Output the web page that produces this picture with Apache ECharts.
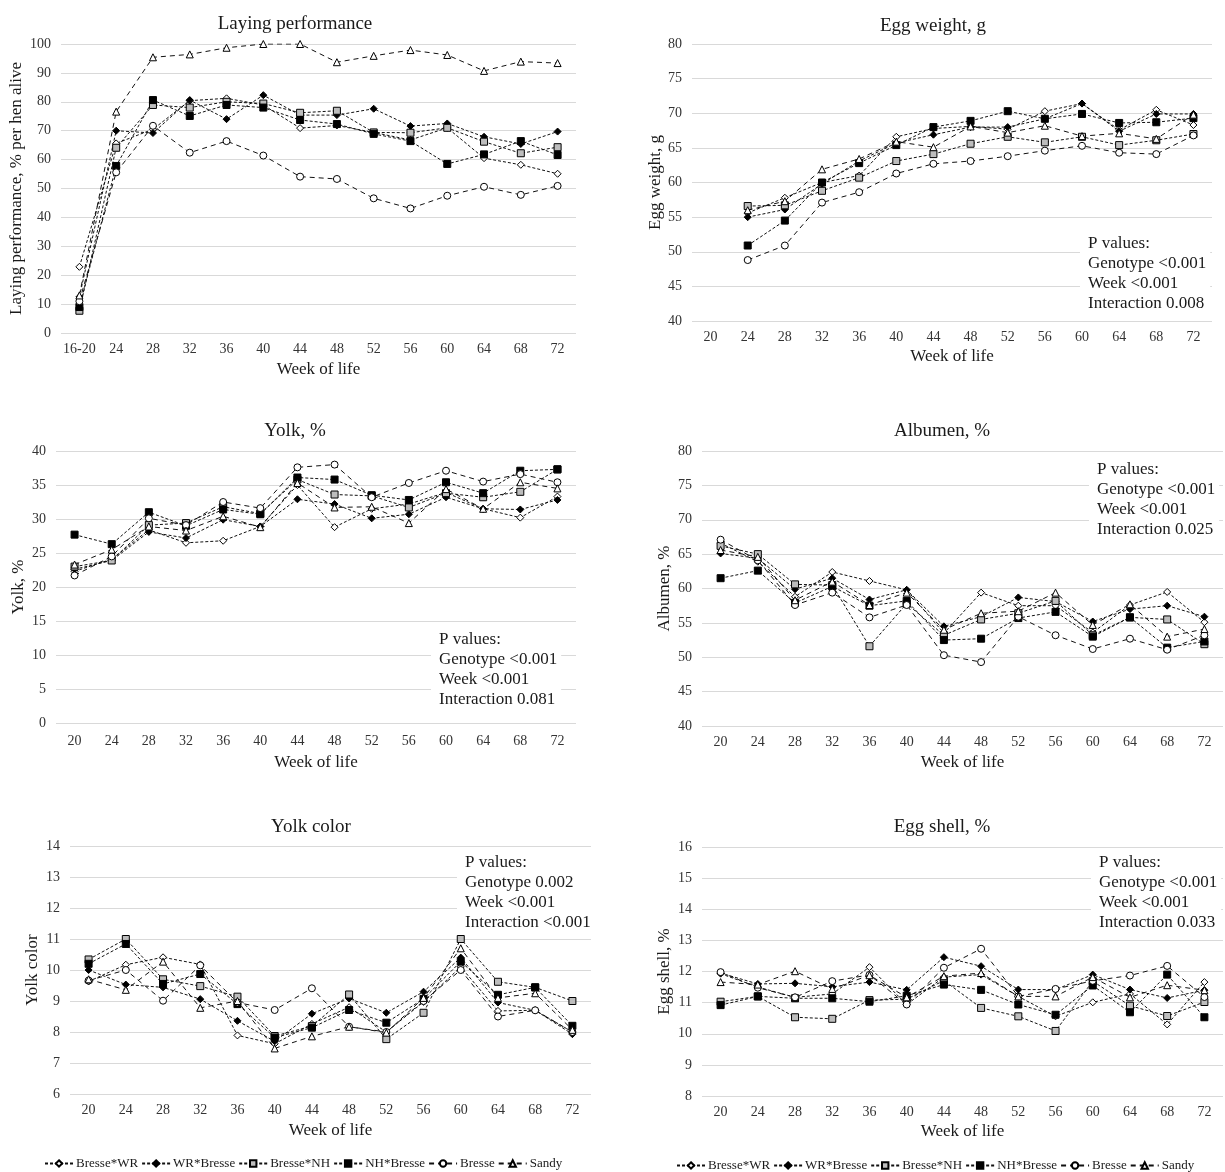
<!DOCTYPE html>
<html>
<head>
<meta charset="utf-8">
<title>Egg quality by genotype</title>
<script src="https://cdn.jsdelivr.net/npm/echarts@6/dist/echarts.min.js"></script>
<style>
  html, body { margin: 0; padding: 0; background: #fff; }
  #main { width: 1225px; height: 1172px; }
</style>
</head>
<body>
<div id="main"></div>
<script>
var genotypes  = ['Bresse*WR', 'WR*Bresse', 'Bresse*NH', 'NH*Bresse', 'Bresse', 'Sandy'];
var weeksLay   = ['16-20', '24', '28', '32', '36', '40', '44', '48', '52', '56', '60', '64', '68', '72'];
var weeks      = ['20', '24', '28', '32', '36', '40', '44', '48', '52', '56', '60', '64', '68', '72'];

// Laying performance, % per hen alive
var layBresseWR = [22.9, 65.6, 70.5, 80.4, 81.2, 78.9, 70.9, 71.8, 69.4, 66.8, 71.0, 60.5, 58.2, 55.1];
var layWRBresse = [12.5, 70.0, 69.2, 80.6, 74.0, 82.3, 75.4, 75.4, 77.6, 71.6, 72.5, 67.9, 65.4, 69.7];
var layBresseNH = [7.7, 64.1, 78.9, 78.0, 80.0, 79.4, 76.2, 76.9, 69.4, 69.3, 71.0, 66.2, 62.2, 64.3];
var layNHBresse = [9.0, 57.8, 80.6, 75.1, 78.9, 78.0, 73.7, 72.3, 68.9, 66.4, 58.5, 61.8, 66.4, 61.6];
var layBresse   = [11.0, 55.6, 71.7, 62.4, 66.4, 61.4, 54.1, 53.3, 46.6, 43.1, 47.5, 50.6, 47.8, 50.9];
var laySandy    = [13.0, 76.6, 95.4, 96.4, 98.7, 100, 100, 93.7, 95.9, 97.9, 96.2, 90.7, 93.9, 93.4];

// Egg weight, g (no value at week 20)
var eggBresseWR = [null, 55.6, 57.8, 60.0, 61.0, 66.6, 67.8, 68.1, 67.7, 70.3, 71.4, 67.6, 70.5, 68.3];
var eggWRBresse = [null, 55.0, 56.1, 59.8, 63.1, 65.7, 66.9, 68.0, 68.0, 69.2, 71.4, 67.4, 69.9, 69.9];
var eggBresseNH = [null, 56.6, 56.7, 58.8, 60.7, 63.1, 64.1, 65.6, 66.6, 65.8, 66.6, 65.4, 66.1, 67.0];
var eggNHBresse = [null, 50.9, 54.5, 60.0, 62.8, 65.4, 68.0, 68.9, 70.3, 69.2, 69.9, 68.6, 68.7, 69.3];
var eggBresse   = [null, 48.8, 50.9, 57.1, 58.6, 61.3, 62.7, 63.1, 63.8, 64.6, 65.3, 64.3, 64.1, 66.8];
var eggSandy    = [null, 56.0, 57.3, 61.9, 63.4, 65.9, 65.1, 68.1, 67.2, 68.2, 66.7, 67.1, 66.3, 69.8];

// Yolk, %
var yolkBresseWR = [22.3, 24.1, 28.4, 26.5, 26.8, 28.9, 35.0, 28.8, 31.5, 32.2, 33.9, 31.5, 30.2, 33.3];
var yolkWRBresse = [22.6, 23.9, 28.1, 27.2, 29.9, 28.9, 32.9, 32.2, 30.1, 30.7, 33.2, 31.5, 31.4, 32.8];
var yolkBresseNH = [23.0, 23.9, 29.1, 29.4, 31.8, 30.8, 35.8, 33.6, 33.4, 31.7, 33.8, 33.2, 34.0, 37.3];
var yolkNHBresse = [27.7, 26.3, 31.0, 29.0, 31.4, 30.7, 36.1, 35.8, 33.5, 32.8, 35.4, 33.8, 37.1, 37.3];
var yolkBresse   = [21.7, 24.5, 30.1, 29.1, 32.5, 31.6, 37.6, 38.0, 33.2, 35.3, 37.1, 35.5, 36.6, 35.4];
var yolkSandy    = [23.3, 25.5, 28.9, 28.3, 30.4, 28.8, 35.3, 31.7, 31.8, 29.4, 34.4, 31.5, 35.4, 34.5];

// Albumen, %
var albBresseWR = [66.6, 63.9, 58.8, 62.4, 61.1, 59.8, 53.5, 59.4, 57.5, 57.5, 53.6, 57.6, 59.5, 55.1];
var albWRBresse = [65.1, 64.4, 59.9, 61.5, 58.4, 59.8, 54.5, 55.9, 58.7, 58.1, 55.2, 57.0, 57.5, 55.9];
var albBresseNH = [66.2, 65.0, 60.6, 60.5, 51.6, 57.8, 53.2, 55.5, 56.4, 58.2, 53.2, 55.8, 55.5, 51.9];
var albNHBresse = [61.5, 62.6, 57.9, 60.3, 57.5, 58.2, 52.5, 52.7, 55.7, 56.6, 53.0, 55.8, 51.4, 52.3];
var albBresse   = [67.1, 64.1, 57.6, 59.4, 55.8, 57.6, 50.3, 49.3, 55.9, 53.2, 51.2, 52.7, 51.1, 53.2];
var albSandy    = [65.6, 64.6, 58.3, 61.0, 57.6, 59.4, 54.0, 56.4, 56.7, 59.4, 54.7, 57.7, 53.0, 54.1];

// Yolk color
var colBresseWR = [9.63, 10.17, 10.41, 10.18, 7.89, 7.62, 8.26, 8.80, 8.00, 8.97, 10.10, 8.68, 8.70, 8.00];
var colWRBresse = [10.00, 9.53, 9.44, 9.06, 8.36, 7.70, 8.59, 9.08, 8.62, 9.30, 10.40, 8.95, 8.70, 7.93];
var colBresseNH = [10.34, 11.00, 9.70, 9.48, 9.14, 7.87, 8.19, 9.21, 7.77, 8.62, 11.00, 9.62, 9.44, 9.00];
var colNHBresse = [10.20, 10.84, 9.55, 9.87, 8.90, 7.82, 8.14, 8.71, 8.30, 9.07, 10.27, 9.20, 9.44, 8.20];
var colBresse   = [9.66, 10.00, 9.01, 10.15, 8.95, 8.71, 9.41, 8.17, 8.00, 9.00, 10.00, 8.50, 8.70, 8.00];
var colSandy    = [9.70, 9.36, 10.27, 8.78, 9.00, 7.47, 7.86, 8.17, 7.98, 9.10, 10.70, 9.10, 9.25, 8.07];

// Egg shell, %
var shellBresseWR = [11.93, 11.50, 11.17, 11.28, 12.14, 10.94, 11.82, 11.90, 11.20, 10.56, 11.01, 11.28, 10.30, 11.66];
var shellWRBresse = [11.95, 11.60, 11.62, 11.51, 11.66, 11.41, 12.46, 12.17, 11.42, 11.42, 11.90, 11.42, 11.15, 11.40];
var shellBresseNH = [11.03, 11.20, 10.53, 10.48, 11.08, 11.11, 11.71, 10.83, 10.56, 10.09, 11.69, 10.90, 10.57, 11.02];
var shellNHBresse = [10.92, 11.20, 11.14, 11.14, 11.03, 11.22, 11.58, 11.41, 10.94, 10.61, 11.55, 10.69, 11.90, 10.53];
var shellBresse   = [11.98, 11.48, 11.17, 11.69, 11.89, 10.94, 12.12, 12.73, 11.20, 11.44, 11.70, 11.87, 12.18, 11.18];
var shellSandy    = [11.66, 11.58, 12.01, 11.44, 11.88, 11.17, 11.85, 11.95, 11.20, 11.20, 11.82, 11.17, 11.56, 11.40];

var pEgg   = ['P values:', 'Genotype <0.001', 'Week <0.001', 'Interaction 0.008'];
var pYolk  = ['P values:', 'Genotype <0.001', 'Week <0.001', 'Interaction 0.081'];
var pAlb   = ['P values:', 'Genotype <0.001', 'Week <0.001', 'Interaction 0.025'];
var pCol   = ['P values:', 'Genotype 0.002', 'Week <0.001', 'Interaction <0.001'];
var pShell = ['P values:', 'Genotype <0.001', 'Week <0.001', 'Interaction 0.033'];

var FONT = '"Liberation Serif", "Times New Roman", serif';
var INK  = '#1a1a1a';

// marker per genotype: crosses dotted, pure breeds dashed
var marks = [
    { symbol: 'diamond',  size: 7, fill: '#ffffff', dash: [3, 2] },
    { symbol: 'diamond',  size: 7, fill: '#000000', dash: [3, 2] },
    { symbol: 'rect',     size: 7, fill: '#bdbdbd', dash: [3, 2] },
    { symbol: 'rect',     size: 7, fill: '#000000', dash: [3, 2] },
    { symbol: 'circle',   size: 7, fill: '#ffffff', dash: [5, 4] },
    { symbol: 'triangle', size: 7, fill: '#ffffff', dash: [5, 4] }
];

var panels = [
    { title: 'Laying performance', yName: 'Laying performance, % per hen alive', cats: weeksLay,
      min: 0, max: 100, interval: 10,
      grid: { left: 61, top: 44, width: 515, height: 289 }, tx: 290, ty: 10, nameGapX: 28, nameGapY: 36, labMargin: 9,
      data: [layBresseWR, layWRBresse, layBresseNH, layNHBresse, layBresse, laySandy], p: null },
    { title: 'Egg weight, g', yName: 'Egg weight, g', cats: weeks,
      min: 40, max: 80, interval: 5,
      grid: { left: 692, top: 44, width: 520, height: 277 }, tx: 928, ty: 12, nameGapX: 27, nameGapY: 27, labMargin: 9,
      data: [eggBresseWR, eggWRBresse, eggBresseNH, eggNHBresse, eggBresse, eggSandy], p: pEgg, px: 1088, py: 244 },
    { title: 'Yolk, %', yName: 'Yolk, %', cats: weeks,
      min: 0, max: 40, interval: 5,
      grid: { left: 56, top: 451, width: 520, height: 272 }, tx: 290, ty: 417, nameGapX: 31, nameGapY: 29, labMargin: 11,
      data: [yolkBresseWR, yolkWRBresse, yolkBresseNH, yolkNHBresse, yolkBresse, yolkSandy], p: pYolk, px: 439, py: 640 },
    { title: 'Albumen, %', yName: 'Albumen, %', cats: weeks,
      min: 40, max: 80, interval: 5,
      grid: { left: 702, top: 451, width: 521, height: 275 }, tx: 937, ty: 417, nameGapX: 28, nameGapY: 29, labMargin: 9,
      data: [albBresseWR, albWRBresse, albBresseNH, albNHBresse, albBresse, albSandy], p: pAlb, px: 1097, py: 470 },
    { title: 'Yolk color', yName: 'Yolk color', cats: weeks,
      min: 6, max: 14, interval: 1,
      grid: { left: 70, top: 846, width: 521, height: 248 }, tx: 306, ty: 813, nameGapX: 28, nameGapY: 29, labMargin: 9,
      data: [colBresseWR, colWRBresse, colBresseNH, colNHBresse, colBresse, colSandy], p: pCol, px: 465, py: 863 },
    { title: 'Egg shell, %', yName: 'Egg shell, %', cats: weeks,
      min: 8, max: 16, interval: 1,
      grid: { left: 702, top: 847, width: 521, height: 249 }, tx: 937, ty: 813, nameGapX: 27, nameGapY: 29, labMargin: 9,
      data: [shellBresseWR, shellWRBresse, shellBresseNH, shellNHBresse, shellBresse, shellSandy], p: pShell, px: 1099, py: 863 }
];

var titles = [], grids = [], xAxes = [], yAxes = [], series = [], graphics = [];

panels.forEach(function (pn, i) {
    titles.push({
        text: pn.title, left: pn.tx, top: pn.ty, textAlign: 'center',
        textStyle: { fontFamily: FONT, fontSize: 19, fontWeight: 'normal', color: INK }
    });
    grids.push(pn.grid);
    xAxes.push({
        type: 'category', gridIndex: i, data: pn.cats, boundaryGap: true,
        name: 'Week of life', nameLocation: 'middle', nameGap: pn.nameGapX,
        nameTextStyle: { fontFamily: FONT, fontSize: 17, color: INK },
        axisLine: { show: false }, axisTick: { show: false },
        axisLabel: { fontFamily: FONT, fontSize: 14, color: '#333', margin: pn.labMargin, interval: 0 }
    });
    yAxes.push({
        type: 'value', gridIndex: i, min: pn.min, max: pn.max, interval: pn.interval,
        name: pn.yName, nameLocation: 'middle', nameGap: pn.nameGapY, nameRotate: 90,
        nameTextStyle: { fontFamily: FONT, fontSize: 17, color: INK },
        axisLine: { show: false }, axisTick: { show: false },
        axisLabel: { fontFamily: FONT, fontSize: 14, color: '#333', margin: 10 },
        splitLine: { lineStyle: { color: '#d9d9d9', width: 1.2 } }
    });
    pn.data.forEach(function (vals, g) {
        var mk = marks[g];
        series.push({
            type: 'line', name: genotypes[g], xAxisIndex: i, yAxisIndex: i,
            data: vals, symbol: mk.symbol, symbolSize: mk.size, showSymbol: true,
            connectNulls: false, animation: false,
            itemStyle: { color: mk.fill, borderColor: '#000', borderWidth: 1 },
            lineStyle: { color: '#111', width: 1, type: mk.dash },
            emphasis: { disabled: true }
        });
    });
    if (pn.p) {
        graphics.push({
            type: 'text', x: pn.px - 8, y: pn.py - 12, z: 100,
            style: {
                text: pn.p.join('\n'), font: '17px ' + FONT, lineHeight: 20,
                fill: INK, backgroundColor: '#fff', padding: [2, 4, 2, 8]
            }
        });
    }
});

var legendBase = {
    data: genotypes, itemWidth: 28, itemHeight: 8, itemGap: 3,
    width: 600, padding: 0,
    textStyle: { fontFamily: FONT, fontSize: 13, color: INK, padding: [0, 0, 0, -2] },
    selectedMode: false
};

var chart = echarts.init(document.getElementById('main'), null, { renderer: 'canvas' });
chart.setOption({
    backgroundColor: '#fff',
    animation: false,
    title: titles,
    grid: grids,
    xAxis: xAxes,
    yAxis: yAxes,
    series: series,
    legend: [
        Object.assign({}, legendBase, { left: 44, top: 1157 }),
        Object.assign({}, legendBase, { left: 676, top: 1159 })
    ],
    graphic: graphics
});
</script>
</body>
</html>
